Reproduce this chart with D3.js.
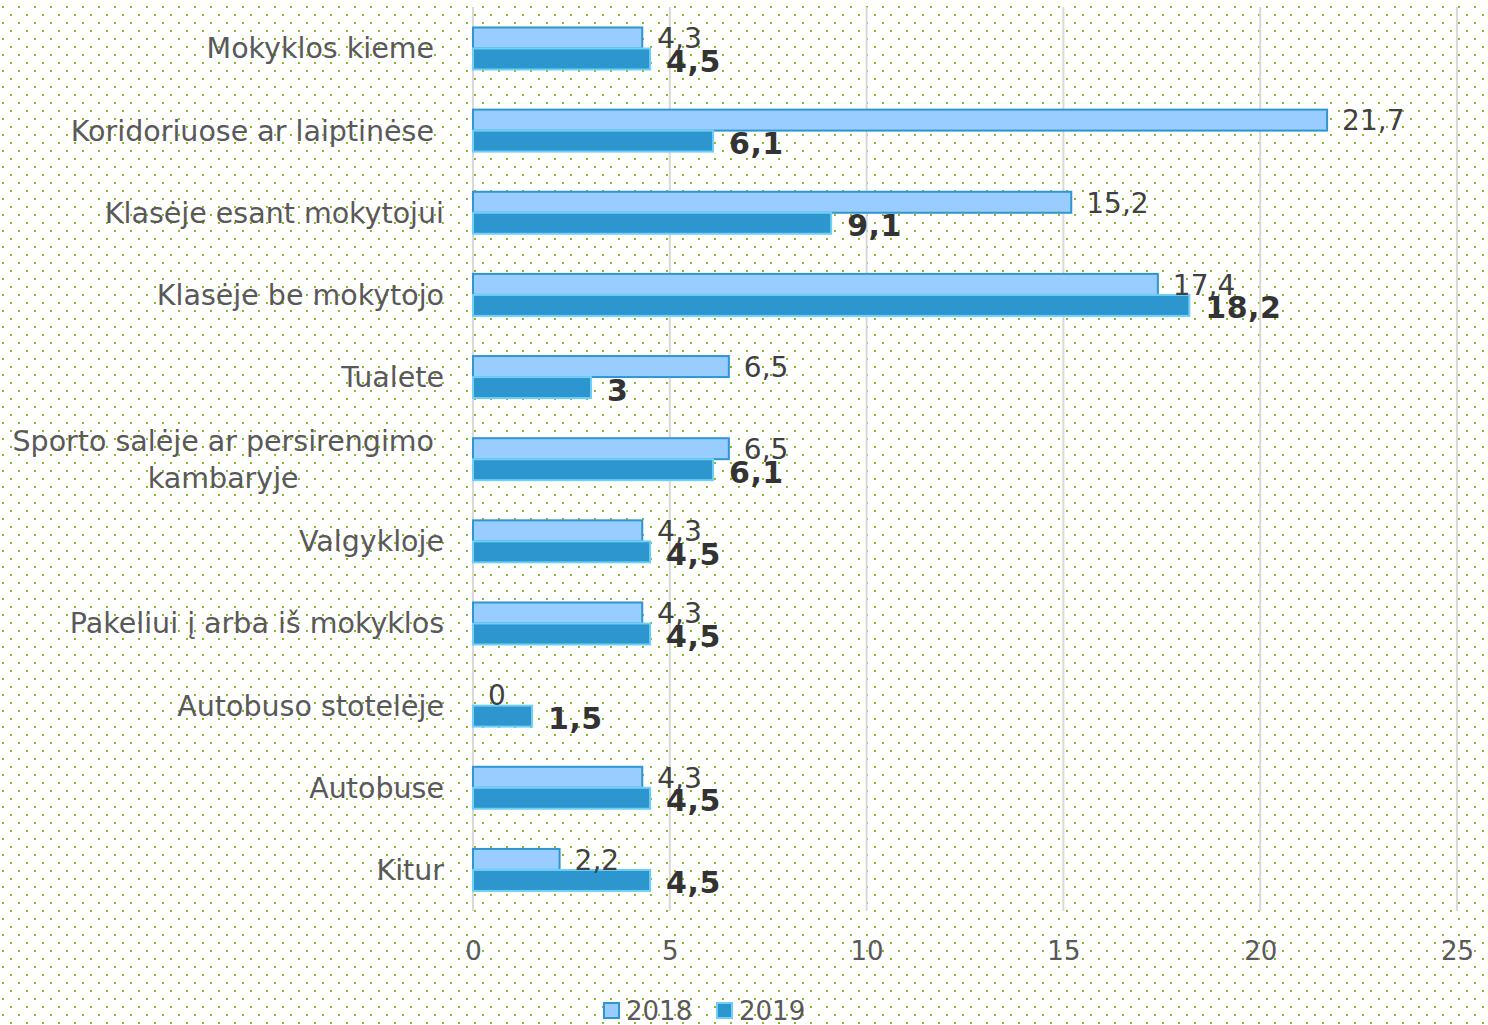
<!DOCTYPE html>
<html><head><meta charset="utf-8">
<script src="https://cdn.jsdelivr.net/npm/d3@7"></script>
<style>html,body{margin:0;padding:0;background:#fff}</style>
</head><body>
<svg id="c" width="1488" height="1025"></svg>
<script>
const categories = ["Mokyklos kieme", "Koridoriuose ar laiptinėse", "Klasėje esant mokytojui", "Klasėje be mokytojo", "Tualete", "Sporto salėje ar persirengimo kambaryje", "Valgykloje", "Pakeliui į arba iš mokyklos", "Autobuso stotelėje", "Autobuse", "Kitur"];
const values2018 = [4.3, 21.7, 15.2, 17.4, 6.5, 6.5, 4.3, 4.3, 0, 4.3, 2.2];
const values2019 = [4.5, 6.1, 9.1, 18.2, 3, 6.1, 4.5, 4.5, 1.5, 4.5, 4.5];
const seriesNames = ["2018", "2019"];
const xTicks = [0, 5, 10, 15, 20, 25];
const labelLines = [["Mokyklos kieme"], ["Koridoriuose ar laiptinėse"], ["Klasėje esant mokytojui"], ["Klasėje be mokytojo"], ["Tualete"], ["Sporto salėje ar persirengimo", "kambaryje"], ["Valgykloje"], ["Pakeliui į arba iš mokyklos"], ["Autobuso stotelėje"], ["Autobuse"], ["Kitur"]];
const labelRight = [434, 434, 444, 444, 444, 434, 444, 444, 444, 444, 444];

const svg = d3.select("#c");
const FONT = "'DejaVu Sans', sans-serif";
const defs = svg.append("defs");
const pat = defs.append("pattern").attr("id","dots").attr("patternUnits","userSpaceOnUse")
  .attr("width",16).attr("height",16);
pat.append("rect").attr("x",2).attr("y",6).attr("width",2).attr("height",2).attr("fill","#8dbb1c");
pat.append("rect").attr("x",10).attr("y",14).attr("width",2).attr("height",2).attr("fill","#8dbb1c");
svg.append("rect").attr("width",1488).attr("height",1025).attr("fill","#fff");
svg.append("rect").attr("width",1488).attr("height",1025).attr("fill","url(#dots)");

const x = d3.scaleLinear().domain([0,25]).range([473,1457]);
const y = d3.scaleBand().domain(categories).range([7.4,911]);
const barH = 21;

svg.append("g").selectAll("line").data(xTicks).join("line")
  .attr("x1",d=>x(d)).attr("x2",d=>x(d)).attr("y1",7).attr("y2",911)
  .attr("stroke","#d9d9d9").attr("stroke-width",2);

const xAxis = d3.axisBottom(x).tickValues(xTicks).tickSize(0).tickPadding(0);
const ax = svg.append("g").attr("transform","translate(0,951)").call(xAxis);
ax.select(".domain").remove();
ax.selectAll("text").attr("font-family",FONT).attr("font-size",26).attr("fill","#595959")
  .attr("dy","0.35em");

const g = svg.append("g");
categories.forEach((c,i)=>{
  const cy = y(c) + y.bandwidth()/2;
  g.append("rect").attr("x",x(0)).attr("y",cy-barH).attr("width",x(values2018[i])-x(0)).attr("height",barH)
    .attr("fill","#99ccff").attr("stroke","#2e96d0").attr("stroke-width",2);
  g.append("rect").attr("x",x(0)).attr("y",cy).attr("width",x(values2019[i])-x(0)).attr("height",barH)
    .attr("fill","#2e96cf").attr("stroke","#6fd0f7").attr("stroke-width",2);
});
const fmt = v => String(v).replace(".", ",");
categories.forEach((c,i)=>{
  const cy = y(c) + y.bandwidth()/2;
  svg.append("text").attr("x",x(values2018[i])+15).attr("y",cy-10).attr("dy","0.35em")
    .attr("font-family",FONT).attr("font-size",28).attr("fill","#404040").text(fmt(values2018[i]));
  svg.append("text").attr("x",x(values2019[i])+16).attr("y",cy+13).attr("dy","0.35em")
    .attr("font-family",FONT).attr("font-size",30).attr("font-weight","bold").attr("letter-spacing",0.5)
    .attr("fill","#333").text(fmt(values2019[i]));
});
categories.forEach((c,i)=>{
  const cy = y(c) + y.bandwidth()/2;
  const lines = labelLines[i];
  if (lines.length === 1) {
    svg.append("text").attr("x",labelRight[i]).attr("y",cy).attr("dy","0.35em").attr("text-anchor","end")
      .attr("font-family",FONT).attr("font-size",28.5).attr("fill","#595959").text(lines[0]);
  } else {
    const t = svg.append("text").attr("font-family",FONT).attr("font-size",28.5).attr("fill","#595959").attr("text-anchor","middle");
    const tmp = svg.append("text").attr("font-family",FONT).attr("font-size",28.5).text(lines[0]);
    const w = tmp.node().getComputedTextLength(); tmp.remove();
    const cx = labelRight[i] - w/2;
    lines.forEach((l,k)=>{
      t.append("tspan").attr("x",cx).attr("y",cy + (k - (lines.length-1)/2)*37).attr("dy","0.35em").text(l);
    });
  }
});
const leg = svg.append("g");
const legItems = [{n:seriesNames[0], fill:"#99ccff", stroke:"#2e96d0", x:603},{n:seriesNames[1], fill:"#2e96cf", stroke:"#6fd0f7", x:716}];
legItems.forEach(d=>{
  leg.append("rect").attr("x",d.x+1).attr("y",1003).attr("width",15).attr("height",15)
    .attr("fill",d.fill).attr("stroke",d.stroke).attr("stroke-width",2);
  leg.append("text").attr("x",d.x+23).attr("y",1011).attr("dy","0.35em").attr("font-family",FONT)
    .attr("font-size",26).attr("fill","#595959").text(d.n);
});
</script>
</body></html>
